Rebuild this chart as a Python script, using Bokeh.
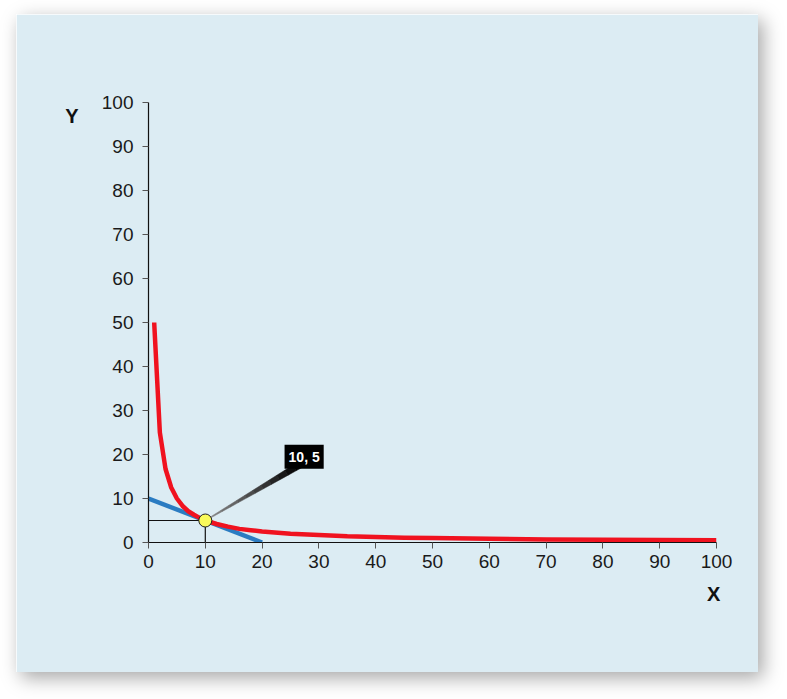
from bokeh.plotting import figure
from bokeh.models import Range1d, FixedTicker, Label, LinearAxis, InlineStyleSheet
from bokeh.embed import file_html
from bokeh.resources import INLINE

# ---- data ----
curve_x = [1, 2, 3, 4, 5, 6, 7, 8, 9, 10, 12, 14, 16, 18, 20, 25, 30, 35, 40, 45,
           50, 60, 70, 80, 90, 100]
curve_y = [50, 25, 16.7, 12.5, 10, 8.3, 7.1, 6.3, 5.6, 5, 4.2, 3.6, 3.1, 2.8, 2.5,
           2.0, 1.7, 1.4, 1.25, 1.1, 1.0, 0.83, 0.71, 0.63, 0.56, 0.5]
budget_x = [0, 20]
budget_y = [10, 0]
point_x = [10]
point_y = [5]
point_label = "10, 5"
callout_x = 27.4
callout_y = 19.5
ticks = [0, 10, 20, 30, 40, 50, 60, 70, 80, 90, 100]
x_title, x_title_pos = "X", 99.5
y_title, y_title_pos = "Y", 97

PANEL = "#dcecf3"
FONT = "Liberation Sans"

W, H = 742, 658
ML, MR, MT, MB = 132, 42, 88, 130

p = figure(width=W, height=H, output_backend="svg", toolbar_location=None,
           x_range=Range1d(0, 100), y_range=Range1d(0, 100),
           min_border_left=ML, min_border_right=MR, min_border_top=MT,
           min_border_bottom=MB)
p.stylesheets = [InlineStyleSheet(css=":host { margin-left: 16px !important; "
                                  "margin-top: 14px !important; "
                                  "box-shadow: 5px 6px 18px rgba(0,0,0,0.35); }")]
p.background_fill_color = PANEL
p.border_fill_color = PANEL
p.outline_line_color = PANEL
p.outline_line_width = 2
p.xgrid.visible = False
p.ygrid.visible = False

for ax in (p.xaxis[0], p.yaxis[0]):
    ax.ticker = FixedTicker(ticks=ticks)
    ax.axis_line_color = "#111111"
    ax.axis_line_width = 1.2
    ax.major_tick_line_color = "#555555"
    ax.major_tick_in = 0
    ax.major_tick_out = 6
    ax.minor_tick_line_color = None
    ax.major_label_text_font = FONT
    ax.major_label_text_font_size = "19px"
    ax.major_label_text_color = "#1a1a1a"
p.xaxis[0].major_label_standoff = 6
p.yaxis[0].major_label_standoff = 9


def title_axis(pos, text, standoff):
    a = LinearAxis(ticker=FixedTicker(ticks=[pos]),
                   major_label_overrides={pos: text})
    a.axis_line_color = None
    a.major_tick_line_color = None
    a.minor_tick_line_color = None
    a.major_label_text_font = FONT
    a.major_label_text_font_style = "bold"
    a.major_label_text_font_size = "20px"
    a.major_label_text_color = "#111111"
    a.major_label_standoff = standoff
    return a


p.add_layout(title_axis(y_title_pos, y_title, 14), "left")
p.add_layout(title_axis(x_title_pos, x_title, 6), "below")

# budget line
p.line(budget_x, budget_y, line_color="#2b7cc2", line_width=4.5)
# indifference curve
p.line(curve_x, curve_y, line_color="#f0121f", line_width=4.5, line_join="round")
# guide lines to the point
px, py = point_x[0], point_y[0]
p.segment(x0=[0, px], y0=[py, 0], x1=[px, px], y1=[py, py],
          line_color="#111111", line_width=1.2)

# callout wedge (gradient from grey to black)
sx = (W - ML - MR) / 100.0
sy = (H - MT - MB) / 100.0
end_x, end_y = callout_x - 0.3, callout_y - 1.5
dxp, dyp = (end_x - px) * sx, (end_y - py) * sy
L = (dxp ** 2 + dyp ** 2) ** 0.5
nx, ny = -dyp / L, dxp / L
n = 12
for i in range(n):
    t0, t1 = i / n, (i + 1) / n
    w0, w1 = 0.3 + 3.2 * t0, 0.3 + 3.2 * t1
    cx0, cy0 = px + (end_x - px) * t0, py + (end_y - py) * t0
    cx1, cy1 = px + (end_x - px) * t1, py + (end_y - py) * t1
    xs = [cx0 + nx * w0 / sx, cx1 + nx * w1 / sx, cx1 - nx * w1 / sx, cx0 - nx * w0 / sx]
    ys = [cy0 + ny * w0 / sy, cy1 + ny * w1 / sy, cy1 - ny * w1 / sy, cy0 - ny * w0 / sy]
    g = int(150 * (1 - t1))
    col = "#%02x%02x%02x" % (g, g, g)
    p.patch(xs, ys, fill_color=col, line_color=col, line_width=0.5)

p.scatter(point_x, point_y, size=13, fill_color="#fafa5a", line_color="#222222",
          line_width=1)

p.add_layout(Label(x=callout_x, y=callout_y, text=point_label, text_align="center",
                   text_baseline="middle", text_color="white", text_font=FONT,
                   text_font_style="bold", text_font_size="14px",
                   background_fill_color="black", padding=4))

open("out.html", "w").write(file_html(p, INLINE))
